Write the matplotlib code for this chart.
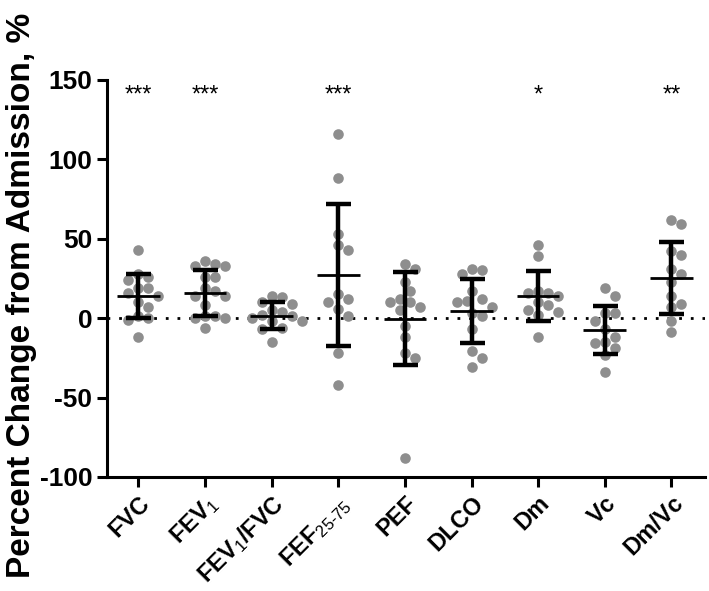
import numpy as np
import matplotlib
matplotlib.use("Agg")
import matplotlib.pyplot as plt

plt.rcParams['font.family'] = ['Liberation Sans', 'DejaVu Sans']
plt.rcParams['mathtext.fontset'] = 'custom'
plt.rcParams['mathtext.rm'] = 'Liberation Sans'
plt.rcParams['mathtext.it'] = 'Liberation Sans:italic'
plt.rcParams['axes.unicode_minus'] = False

# category labels (subscripts via mathtext)
labels = ['FVC', r'FEV$_\mathrm{1}$', r'FEV$_\mathrm{1}$/FVC', r'FEF$_{25\text{-}75}$',
          'PEF', 'DLCO', 'Dm', 'Vc', 'Dm/Vc']

# percent change from admission
fvc = [43, 28, 26, 24, 19, 19, 16, 14, 10, 7, 1, 0, -1, -12]
fev1 = [36, 34, 33, 33, 26, 26, 19, 17, 14, 14, 8, 1, 0, 0, 1, -6]
fev1_fvc = [14, 13, 10, 9, 5, 4, 2, 1, 0, -2, -2, -6, -7, -15]
fef = [116, 88, 53, 46, 43, 15, 12, 10, 6, 1, -22, -42]
pef = [34, 31, 23, 17, 12, 10, 10, 7, 5, -5, -12, -22, -25, -88]
dlco = [31, 30, 28, 17, 12, 11, 10, 7, 3, 1, -7, -21, -25, -31]
dm = [46, 39, 17, 16, 16, 14, 10, 8, 5, 4, 2, -12]
vc = [19, 14, 3, 3, -2, -7, -12, -15, -16, -19, -23, -34]
dm_vc = [62, 59, 42, 40, 31, 28, 23, 14, 9, 7, -2, -9]
groups = [fvc, fev1, fev1_fvc, fef, pef, dlco, dm, vc, dm_vc]

# mean +/- SD as drawn
means = [13.8, 16.0, 1.5, 27.3, -0.3, 4.6, 13.7, -7.5, 25.1]
sds = [13.8, 14.5, 8.4, 44.7, 29.5, 20.0, 15.7, 15.1, 22.8]
stars = ['***', '***', '', '***', '', '', '*', '', '**']

W, H = 7.09, 5.91
fig = plt.figure(figsize=(W, H), dpi=100)
pos = [0.151, 0.193, 0.843, 0.672]
ax = fig.add_axes(pos)
xlim = (-0.47, 8.5)
ylim = (-100, 150)
ax.set_xlim(*xlim)
ax.set_ylim(*ylim)

# pixels per data unit, used to spread the dots without overlap
px_x = W * 100 * pos[2] / (xlim[1] - xlim[0])
px_y = H * 100 * pos[3] / (ylim[1] - ylim[0])
diam = 10.0


def swarm(vals):
    placed = []
    offs = []
    for v in vals:
        for k in range(0, 40):
            step = (k + 1) // 2 * (1 if k % 2 else -1) * 0.5
            c = step * diam / px_x
            ok = all(((c - ox) * px_x) ** 2 + ((v - oy) * px_y) ** 2 >= diam ** 2
                     for ox, oy in placed)
            if ok:
                break
        placed.append((c, v))
        offs.append(c)
    return np.array(offs)


for i, g in enumerate(groups):
    g = np.array(g, dtype=float)
    order = np.argsort(-g)
    offs = swarm(g[order])
    ax.scatter(i + offs, g[order], s=58, color='#8e8e8e', linewidths=0, zorder=2)

ax.axhline(0, color='black', lw=2, linestyle=(0, (1, 3.2)), zorder=1)

x = np.arange(len(groups))
ax.errorbar(x, means, yerr=sds, fmt='none', ecolor='black', elinewidth=3.2,
            capsize=9, capthick=3.2, zorder=3)
ax.hlines(means, x - 0.32, x + 0.32, color='black', lw=2, zorder=3)

for i, s in enumerate(stars):
    if s:
        ax.text(i, 140, s, ha='center', va='center', fontsize=17)

for side in ['top', 'right']:
    ax.spines[side].set_visible(False)
for side in ['left', 'bottom']:
    ax.spines[side].set_linewidth(2.2)

ax.set_yticks([-100, -50, 0, 50, 100, 150])
ax.set_xticks(x)
ax.set_xticklabels(labels, rotation=45, ha='right', rotation_mode='anchor',
                   fontsize=17, fontweight='bold')
ax.tick_params(axis='both', width=2.2, length=7)
ax.tick_params(axis='y', labelsize=19)
for t in ax.get_yticklabels():
    t.set_fontweight('bold')
fig.text(0.031, 0.5, 'Percent Change from Admission, %', rotation=90,
         ha='center', va='center', fontsize=24, fontweight='bold')

fig.savefig('out.png', dpi=100)
